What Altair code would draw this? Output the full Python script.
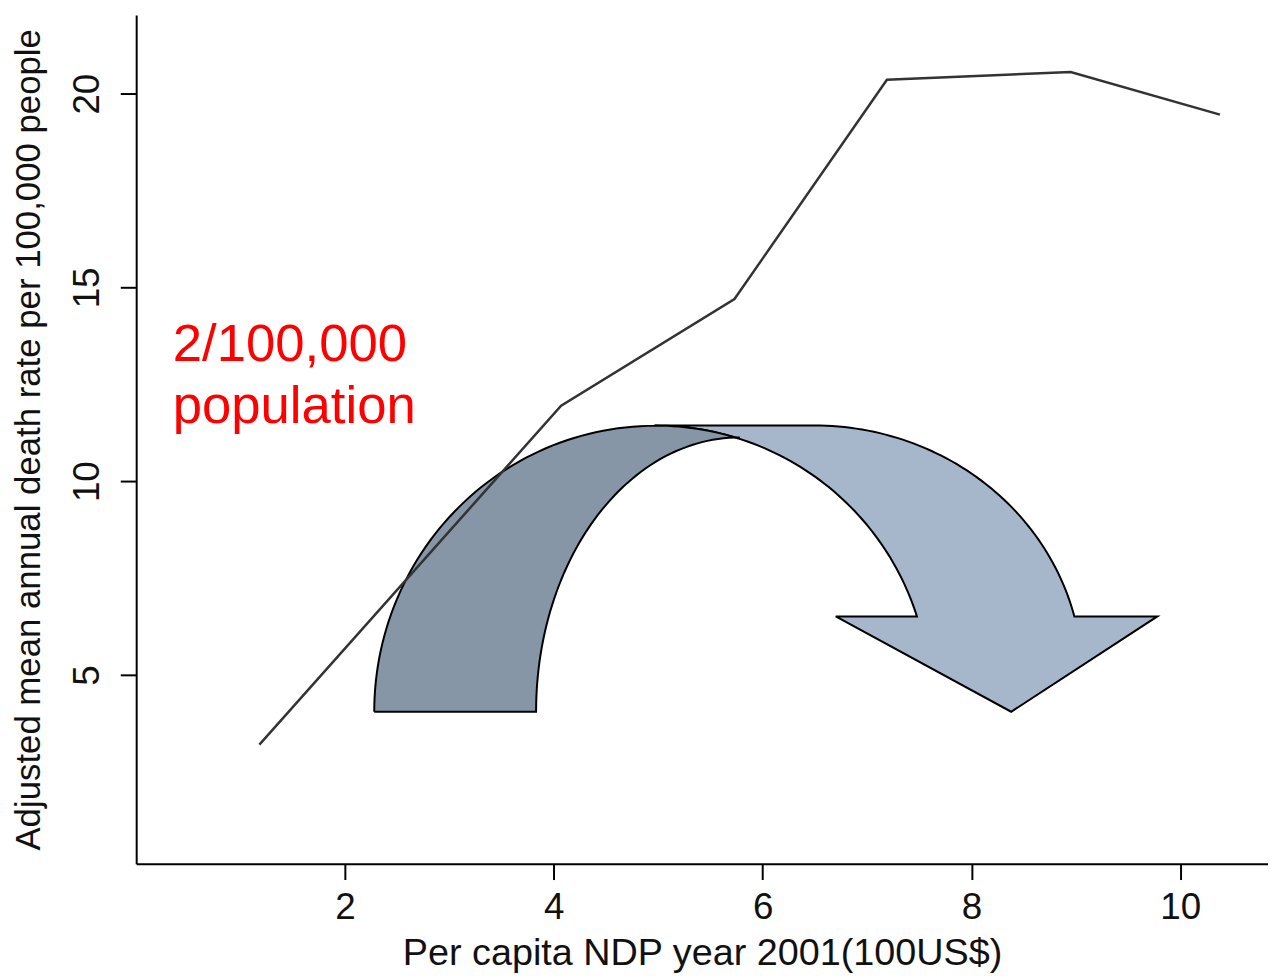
import altair as alt
import numpy as np
import pandas as pd

# ---- data ----
ndp = [1.18, 4.07, 5.73, 7.19, 8.95, 10.38]
death_rate = [3.2, 11.95, 14.7, 20.36, 20.56, 19.46]

note_lines = ["2/100,000", "population"]
note_x = [0.35, 0.35]
note_y = [13.1, 11.5]

x_ticks = [2, 4, 6, 8, 10]
y_ticks = [5, 10, 15, 20]

# curved-arrow decoration (data units): ellipse centres / radii, arrow head points
dark_outer = dict(cx=4.97, cy=4.05, rx=2.69, ry=7.38)
dark_inner = dict(cx=5.78, cy=4.05, rx=1.95, ry=7.08)
light_inner = dict(cx=4.97, cy=4.385, rx=2.63, ry=7.05)
light_outer = dict(cx=6.495, cy=4.897, rx=2.57, ry=6.54)
head_base = 6.51
head_x = [9.78, 8.38, 6.70]
head_y = [6.51, 4.05, 6.51]


def arc(e, a0, a1, n=60):
    t = np.radians(np.linspace(a0, a1, n))
    return list(e["cx"] + e["rx"] * np.cos(t)), list(e["cy"] + e["ry"] * np.sin(t))


def angle_at_y(e, y):
    return float(np.degrees(np.arcsin((y - e["cy"]) / e["ry"])))


def angle_at_x(e, x):
    return float(np.degrees(np.arccos((x - e["cx"]) / e["rx"])))


# light band polygon
lx, ly = [light_inner["cx"]], [light_inner["cy"] + light_inner["ry"]]
ax_, ay_ = arc(light_outer, 90, angle_at_y(light_outer, head_base))
lx += ax_; ly += ay_
lx += head_x; ly += head_y
ax_, ay_ = arc(light_inner, angle_at_y(light_inner, head_base), 90)
lx += ax_; ly += ay_
light = pd.DataFrame({"x": lx, "y": ly, "o": range(len(lx))})

# dark band polygon
dx, dy = [], []
ax_, ay_ = arc(dark_outer, 180, 90)
dx += ax_; dy += ay_
ax_, ay_ = arc(light_inner, 90, angle_at_x(light_inner, dark_inner["cx"] - 0.02), 15)
dx += ax_; dy += ay_
ax_, ay_ = arc(dark_inner, 90, 180)
dx += ax_; dy += ay_
dx.append(dx[0]); dy.append(dy[0])
dark = pd.DataFrame({"x": dx, "y": dy, "o": range(len(dx))})

line_df = pd.DataFrame({"x": ndp, "y": death_rate})
note_df = pd.DataFrame({"t": note_lines, "x": note_x, "y": note_y})

FONT = "Liberation Sans"
xs = alt.Scale(domain=[0, 10.84], nice=False, zero=False)
ys = alt.Scale(domain=[0.13, 22.03], nice=False, zero=False)

xaxis = alt.Axis(values=x_ticks, format="d", title="Per capita NDP year 2001(100US$)", grid=False,
                 tickSize=16, tickColor="black", tickWidth=2, domainColor="black",
                 domainWidth=2, labelFontSize=37, labelFont=FONT, labelColor="#111",
                 labelPadding=10, titleFontSize=38, titleFont=FONT, titleFontWeight="normal",
                 titleColor="#111", titlePadding=10)
yaxis = alt.Axis(values=y_ticks, format="d",
                 title="Adjusted mean annual death rate per 100,000 people",
                 grid=False, tickSize=16, tickColor="black", tickWidth=2, domainColor="black",
                 domainWidth=2, labelFontSize=37, labelFont=FONT, labelColor="#111",
                 labelAngle=270, labelPadding=14, labelAlign="center", labelBaseline="bottom",
                 titleFontSize=35, titleFont=FONT, titleFontWeight="normal",
                 titleColor="#111", titlePadding=22)

light_layer = alt.Chart(light).mark_line(fill="#a6b7cb", stroke="black", strokeWidth=2).encode(
    x=alt.X("x:Q", scale=xs, axis=xaxis), y=alt.Y("y:Q", scale=ys, axis=yaxis), order="o:Q")
dark_layer = alt.Chart(dark).mark_line(fill="#8696a7", stroke="black", strokeWidth=2).encode(
    x=alt.X("x:Q", scale=xs), y=alt.Y("y:Q", scale=ys), order="o:Q")
line_layer = alt.Chart(line_df).mark_line(color="#333333", strokeWidth=2.5).encode(
    x=alt.X("x:Q", scale=xs), y=alt.Y("y:Q", scale=ys))
text_layer = alt.Chart(note_df).mark_text(align="left", baseline="alphabetic", fontSize=53,
                                          font=FONT, color="#ff0000").encode(
    x=alt.X("x:Q", scale=xs), y=alt.Y("y:Q", scale=ys), text="t:N")

chart = alt.layer(light_layer, dark_layer, line_layer, text_layer).properties(
    width=1139, height=854,
    autosize=alt.AutoSizeParams(type="none"),
    padding={"left": 129, "top": 4, "right": 0, "bottom": 110},
).configure_view(stroke=None)

chart.save("out.html", embed_options={"renderer": "svg", "actions": False})
